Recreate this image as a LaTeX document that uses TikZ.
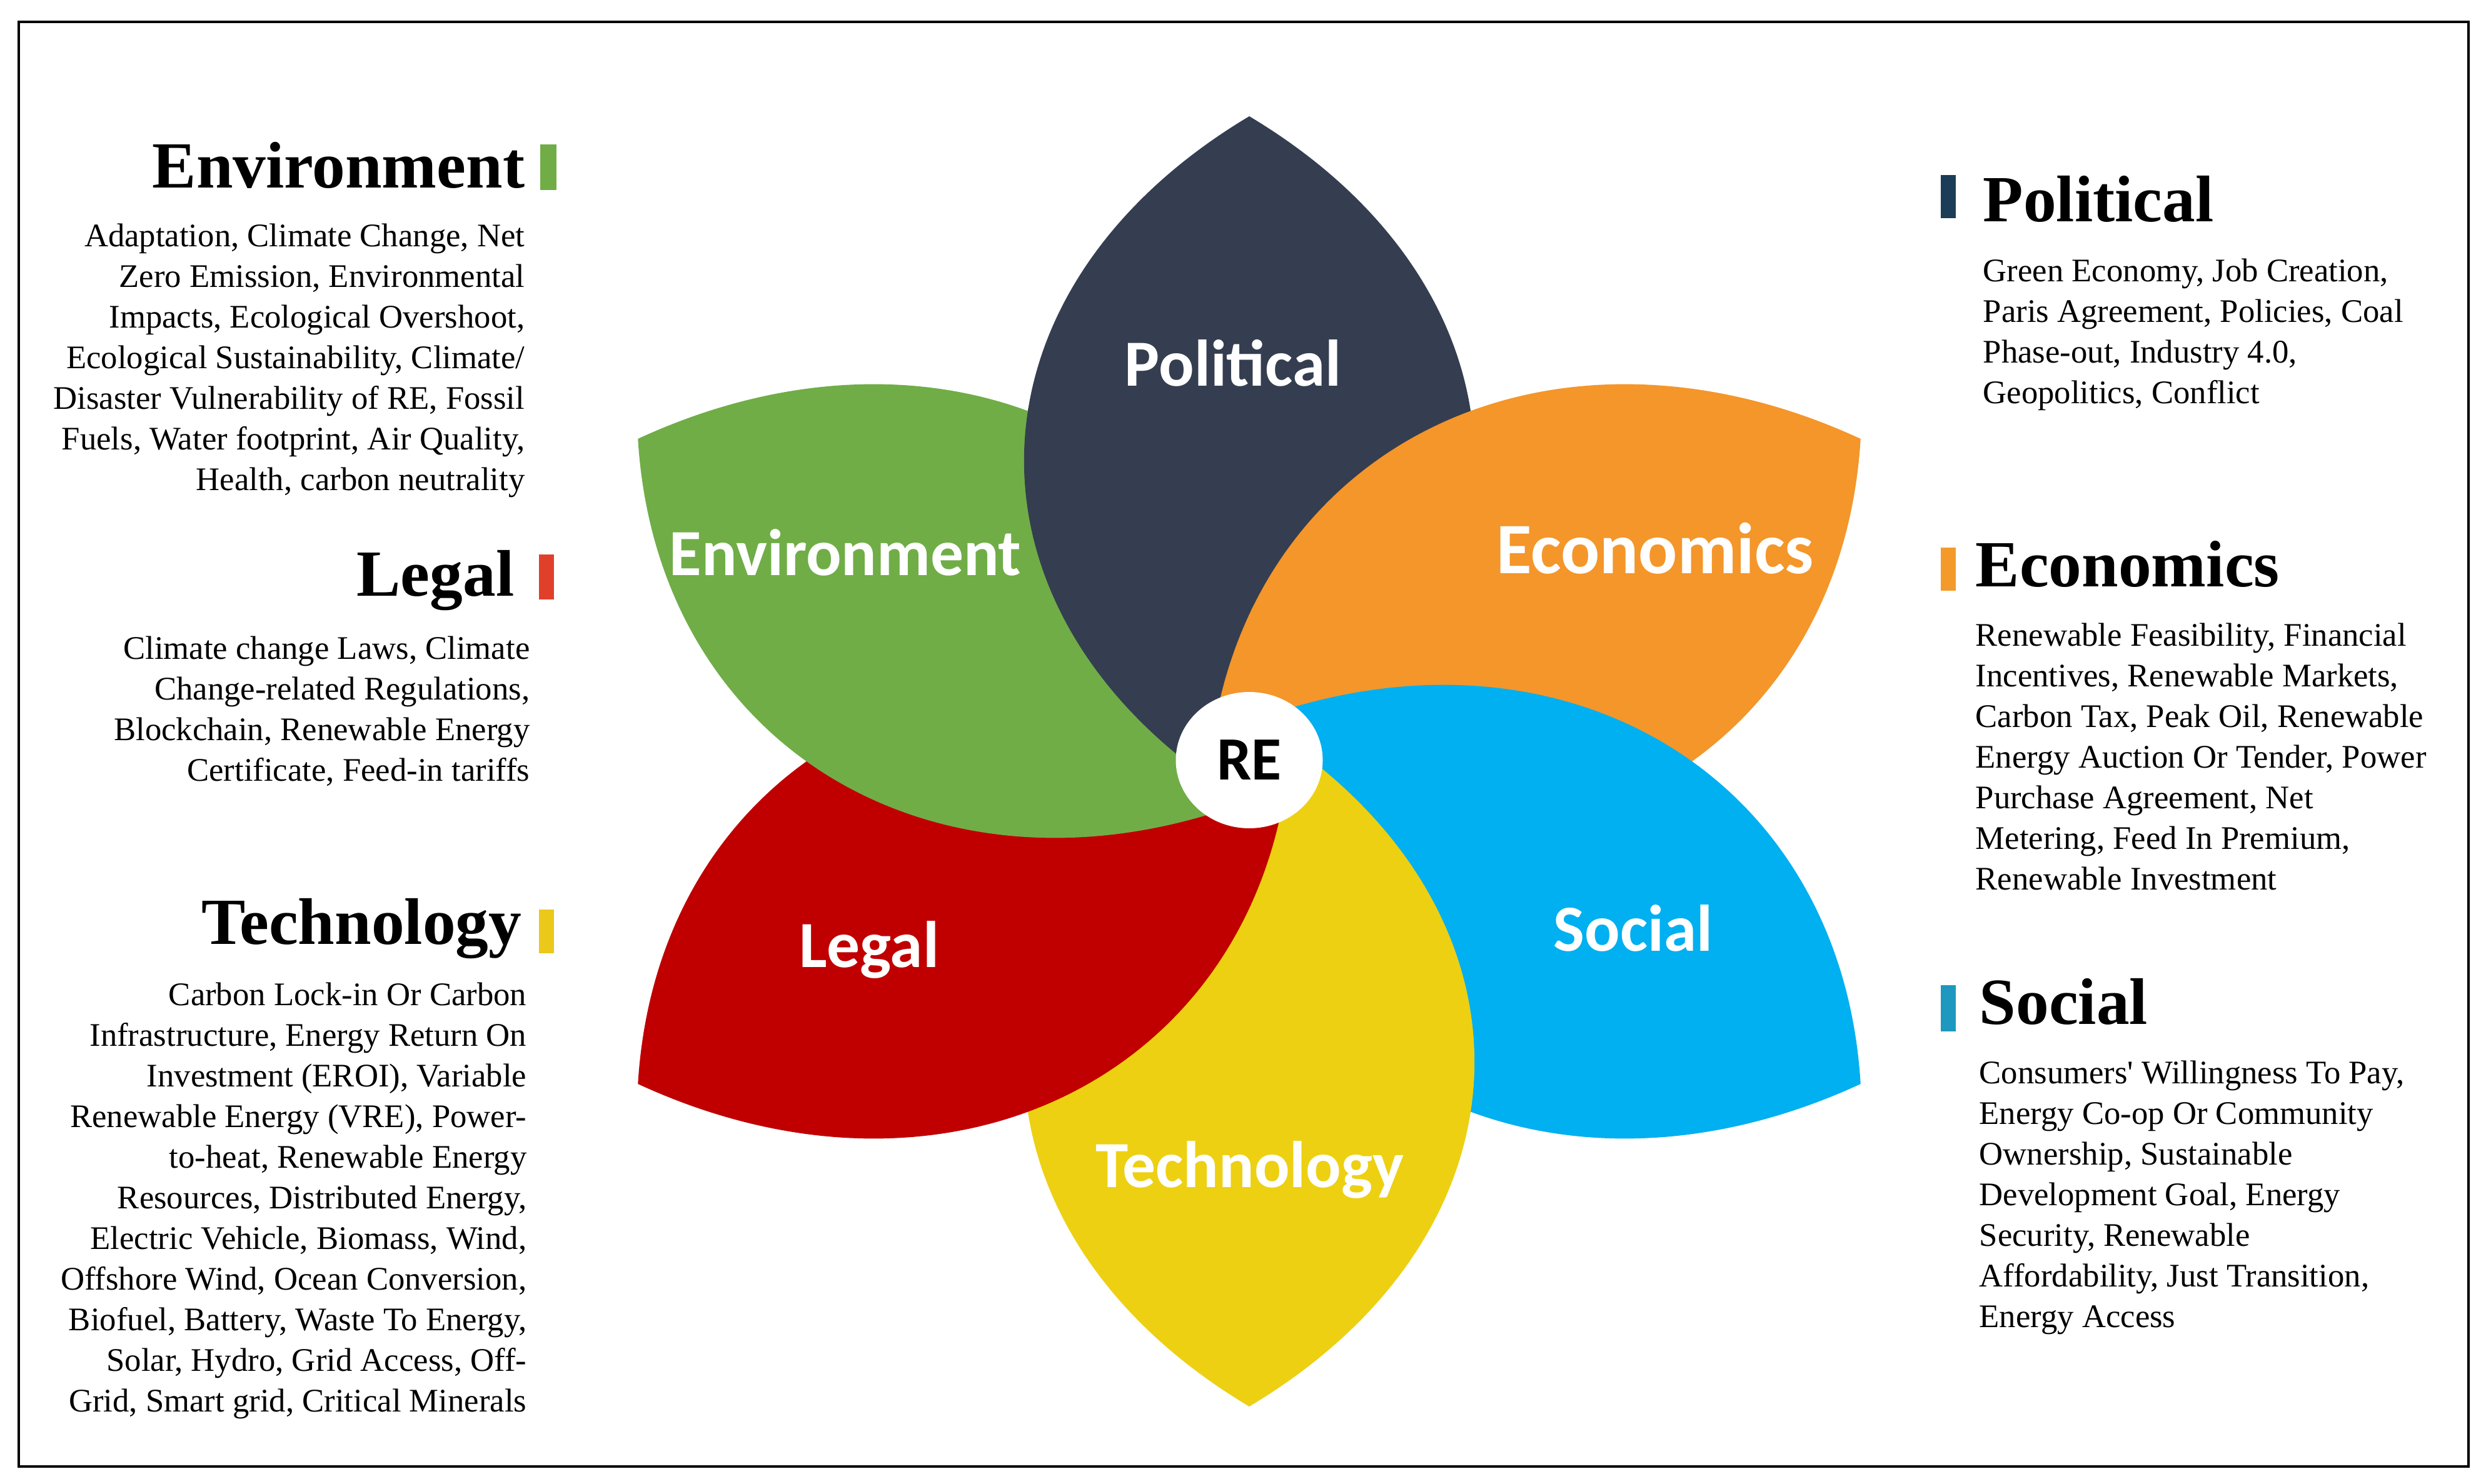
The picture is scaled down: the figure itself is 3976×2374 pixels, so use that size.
\documentclass[tikz,border=0pt]{standalone}
\usepackage{fontspec}
\setmainfont{Liberation Serif}
\newfontfamily\petalfont{Carlito}
\usetikzlibrary{shapes.geometric}
\definecolor{cPol}{HTML}{343E50}
\definecolor{cEnv}{HTML}{70AD47}
\definecolor{cEco}{HTML}{F4962A}
\definecolor{cSoc}{HTML}{00B0F0}
\definecolor{cTec}{HTML}{EDD012}
\definecolor{cLeg}{HTML}{C00000}
\definecolor{bEnv}{HTML}{70AD47}
\definecolor{bLeg}{HTML}{E0402A}
\definecolor{bTec}{HTML}{EBC81A}
\definecolor{bPol}{HTML}{1B3D57}
\definecolor{bEco}{HTML}{F39A2B}
\definecolor{bSoc}{HTML}{1E98BE}
\newcommand\petalshape{(0,-1032) .. controls (-439,-745) and (-439,-217) .. (0,70) .. controls (439,-217) and (439,-745) .. (0,-1032) -- cycle}
\newcommand\straightquote{{\XeTeXglyph\XeTeXcharglyph"27\relax}}
\begin{document}
\begin{tikzpicture}[x=0.1mm,y=-0.1mm,
  body/.style={font=\fontsize{15}{18.5}\selectfont, inner sep=0pt, align=right},
  bodyl/.style={font=\fontsize{15}{18.5}\selectfont, inner sep=0pt, align=left},
  head/.style={font=\fontsize{30}{36}\selectfont\bfseries, inner sep=0pt},
  plabel/.style={font=\petalfont\bfseries\fontsize{30}{36}\selectfont, text=white, inner sep=0pt, anchor=base},
  envgrow/.style={rotate=60, shift={(0,-481)}, scale=#1, shift={(0,481)}},
  frame/.style={line width=0.35mm}]
\useasboundingbox (0,0) rectangle (3976,2374);
\fill[white] (0,0) rectangle (3976,2374);
\draw[frame] (30,35) rectangle (3948,2346);

% flower (each petal lies over its counter-clockwise neighbour)
\begin{scope}[shift={(1998,1218)},xscale=1.094]
  \fill[cPol] \petalshape;
  \fill[cEco,rotate=300] \petalshape;
  \fill[cSoc,rotate=240] \petalshape;
  \fill[cTec,rotate=180] \petalshape;
  \fill[cLeg,rotate=120] \petalshape;
  \fill[cEnv,rotate=60] \petalshape;
  % Political over Environment
  \begin{scope}
    \clip[envgrow=1.012] \petalshape;
    \fill[cPol] \petalshape;
  \end{scope}
  % Economics stays over Political
  \begin{scope}
    \clip \petalshape;
    \clip[envgrow=1.03] \petalshape;
    \fill[cEco,rotate=300] \petalshape;
  \end{scope}
\end{scope}

\node[ellipse, fill=white, minimum width=23.5mm, minimum height=21.8mm, inner sep=0pt,
      font=\petalfont\bfseries\fontsize{28}{32}\selectfont] (re) at (1998,1216) {RE};

\node[plabel] (lpol) at (1972,617) {Political};
\node[plabel] (lenv) at (1352,920) {Environment};
\node[plabel, font=\petalfont\bfseries\fontsize{33}{38}\selectfont] (leco) at (2647,917) {Economics};
\node[plabel] (lleg) at (1390,1547) {Legal};
\node[plabel] (lsoc) at (2612,1521) {Social};
\node[plabel] (ltec) at (1999,1899) {Technology};

% left column
\node[head, anchor=base east] (henv) at (840,301) {Environment};
\fill[bEnv] (864,231) rectangle (890,304);
\node[body, anchor=north east] (tenv) at (840,357) {Adaptation, Climate Change, Net\\
Zero Emission, Environmental\\
Impacts, Ecological Overshoot,\\
Ecological Sustainability, Climate/\\
Disaster Vulnerability of RE, Fossil\\
Fuels, Water footprint, Air Quality,\\
Health, carbon neutrality};

\node[head, anchor=base east] (hleg) at (823,953) {Legal};
\fill[bLeg] (862,887) rectangle (886,959);
\node[body, anchor=north east] (tleg) at (848,1017) {Climate change Laws, Climate\\
Change-related Regulations,\\
Blockchain, Renewable Energy\\
Certificate, Feed-in tariffs};

\node[head, anchor=base east] (htec) at (835,1510) {Technology};
\fill[bTec] (862,1455) rectangle (886,1525);
\node[body, anchor=north east] (ttec) at (843,1571) {Carbon Lock-in Or Carbon\\
Infrastructure, Energy Return On\\
Investment (EROI), Variable\\
Renewable Energy (VRE), Power-\\
to-heat, Renewable Energy\\
Resources, Distributed Energy,\\
Electric Vehicle, Biomass, Wind,\\
Offshore Wind, Ocean Conversion,\\
Biofuel, Battery, Waste To Energy,\\
Solar, Hydro, Grid Access, Off-\\
Grid, Smart grid, Critical Minerals};

% right column
\fill[bPol] (3104,280) rectangle (3128,349);
\node[head, anchor=base west] (hpol) at (3171,355) {Political};
\node[bodyl, anchor=north west] (tpol) at (3171,413) {Green Economy, Job Creation,\\
Paris Agreement, Policies, Coal\\
Phase-out, Industry 4.0,\\
Geopolitics, Conflict};

\fill[bEco] (3104,876) rectangle (3128,945);
\node[head, anchor=base west] (heco) at (3159,938) {Economics};
\node[bodyl, anchor=north west] (teco) at (3159,996) {Renewable Feasibility, Financial\\
Incentives, Renewable Markets,\\
Carbon Tax, Peak Oil, Renewable\\
Energy Auction Or Tender, Power\\
Purchase Agreement, Net\\
Metering, Feed In Premium,\\
Renewable Investment};

\fill[bSoc] (3104,1576) rectangle (3128,1650);
\node[head, anchor=base west] (hsoc) at (3165,1638) {Social};
\node[bodyl, anchor=north west] (tsoc) at (3165,1696) {Consumers\straightquote\ Willingness To Pay,\\
Energy Co-op Or Community\\
Ownership, Sustainable\\
Development Goal, Energy\\
Security, Renewable\\
Affordability, Just Transition,\\
Energy Access};
\end{tikzpicture}
\end{document}
